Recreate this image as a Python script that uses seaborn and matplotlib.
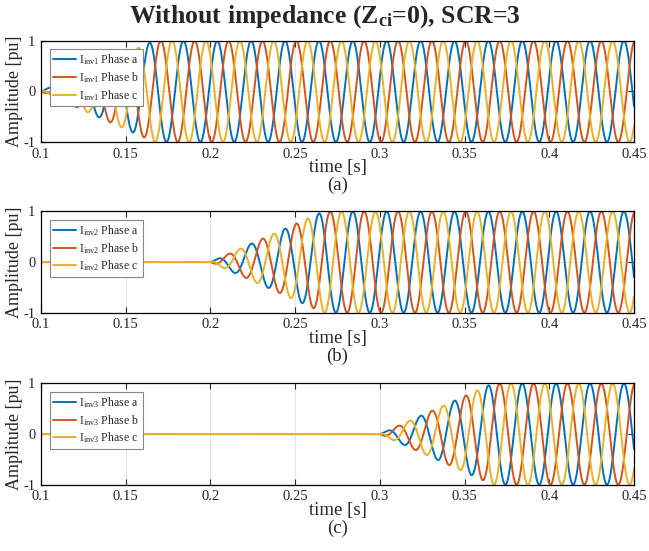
import numpy as np
import pandas as pd
import matplotlib
matplotlib.use("Agg")
import matplotlib.pyplot as plt
import seaborn as sns

# ---- data ----
freq_hz = 50.0                      # grid frequency
phase_offset_rad = 0.3              # phase of phase a at t=0
phase_shift_deg = [0.0, -120.0, 120.0]
phase_names = ["Phase a", "Phase b", "Phase c"]
inverters = ["inv1", "inv2", "inv3"]
ramp_start_s = [0.100, 0.200, 0.300]   # current starts rising
ramp_end_s = [0.1667, 0.2667, 0.3667]  # current reaches 1 pu
panel_tags = ["(a)", "(b)", "(c)"]
x_ticks = [0.1, 0.15, 0.2, 0.25, 0.3, 0.35, 0.4, 0.45]
x_tick_labels = ["0.1", "0.15", "0.2", "0.25", "0.3", "0.35", "0.4", "0.45"]
y_ticks = [-1, 0, 1]
y_tick_labels = ["-1", "0", "1"]
t_min, t_max = 0.1, 0.45
colors = ["#0072BD", "#D95319", "#EDB120"]

sns.set_style("ticks")
plt.rcParams["font.family"] = ["Liberation Serif", "DejaVu Serif"]
plt.rcParams["mathtext.fontset"] = "custom"
plt.rcParams["mathtext.rm"] = "Liberation Serif"
plt.rcParams["mathtext.it"] = "Liberation Serif:italic"
plt.rcParams["mathtext.bf"] = "Liberation Serif:bold"

t = np.linspace(t_min, t_max, 7001)

fig = plt.figure(figsize=(6.49, 5.51), dpi=100)
left, width, height = 0.0632, 0.9137, 0.1838
bottoms = [0.7423, 0.4325, 0.1203]

for k, inv in enumerate(inverters):
    ax = fig.add_axes([left, bottoms[k], width, height])
    env = np.clip((t - ramp_start_s[k]) / (ramp_end_s[k] - ramp_start_s[k]), 0, 1)
    frames = []
    for p, name in enumerate(phase_names):
        y = env * np.sin(2 * np.pi * freq_hz * t + phase_offset_rad + np.deg2rad(phase_shift_deg[p]))
        frames.append(pd.DataFrame({"t": t, "y": y,
                                    "Phase": r"I$_{\mathrm{" + inv + r"}}$ " + name}))
    df = pd.concat(frames, ignore_index=True)
    sns.lineplot(data=df, x="t", y="y", hue="Phase", palette=colors, ax=ax,
                 linewidth=1.4, estimator=None, sort=False)
    ax.set_xlim(t_min, t_max)
    ax.set_ylim(-1, 1)
    ax.set_xticks(x_ticks)
    ax.set_xticklabels(x_tick_labels)
    ax.set_yticks(y_ticks)
    ax.set_yticklabels(y_tick_labels)
    ax.tick_params(direction="in", top=True, right=True, length=4, width=0.8,
                   labelsize=10.5, pad=4)
    for s in ax.spines.values():
        s.set_linewidth(0.9)
        s.set_color("black")
    ax.grid(True, color="#e6e6e6", linewidth=0.8)
    ax.set_axisbelow(True)
    ax.set_xlabel("time [s]", fontsize=13.5, labelpad=-1)
    ax.set_ylabel("Amplitude [pu]", fontsize=13, labelpad=0)
    ax.text(0.5, -0.43, panel_tags[k], transform=ax.transAxes, ha="center",
            va="center", fontsize=13.5)
    leg = ax.legend(loc="upper left", bbox_to_anchor=(0.015, 0.92), borderaxespad=0,
                    fontsize=8.5, frameon=True, fancybox=False, framealpha=1,
                    edgecolor="#888888", handlelength=1.9, handletextpad=0.3,
                    labelspacing=0.25, borderpad=0.3, title=None)
    leg.get_frame().set_linewidth(0.8)

fig.suptitle(r"Without impedance (Z$_{\mathbf{ci}}$=0), SCR=3", fontsize=18.5,
             fontweight="bold", y=0.995)
fig.savefig("out.png", dpi=100)
